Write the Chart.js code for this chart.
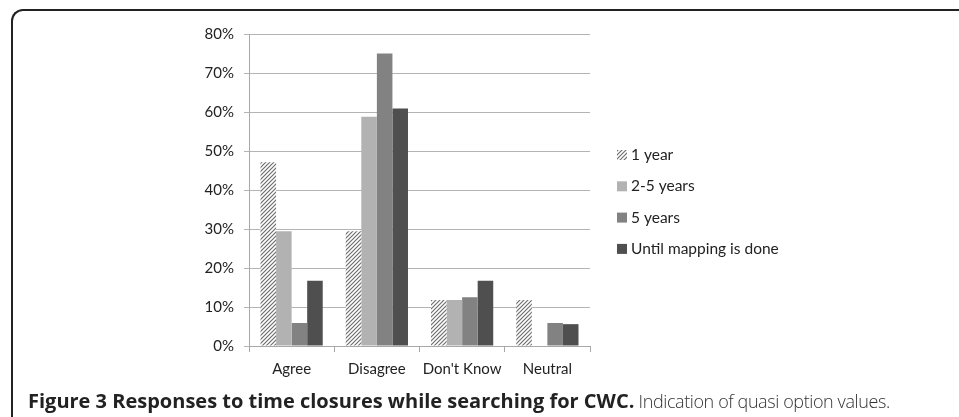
<!DOCTYPE html>
<html>
<head>
<meta charset="utf-8">
<script src="https://cdn.jsdelivr.net/npm/chart.js@4"></script>
<style>
  body { margin: 0; background: #fff; }
  #wrap { position: relative; width: 959px; height: 417px; overflow: hidden; }
  #frame {
    position: absolute; left: 11px; top: 9px; width: 1000px; height: 500px;
    border-left: 2px solid #222; border-top: 2px solid #222;
    border-top-left-radius: 12px;
  }
  #caption {
    position: absolute; left: 28px; top: 390px; white-space: nowrap;
    font-family: "Open Sans", sans-serif; line-height: 22px; color: #222;
  }
  #caption b { font-weight: 700; font-size: 20px; }
  #caption span { font-weight: 300; font-size: 18px; letter-spacing: -0.4px; color: #333; }
</style>
</head>
<body>
<div id="wrap">
  <canvas id="canvas" width="959" height="417"></canvas>
  <div id="frame"></div>
  <div id="caption"><b>Figure 3 Responses to time closures while searching for CWC.</b> <span>Indication of quasi option values.</span></div>
</div>
<script>
var categories = ["Agree", "Disagree", "Don't Know", "Neutral"];
var seriesNames = ["1 year", "2-5 years", "5 years", "Until mapping is done"];
var oneYear = [47.1, 29.4, 11.8, 11.8];
var twoToFive = [29.4, 58.8, 11.8, 0];
var fiveYears = [5.9, 75.0, 12.5, 5.9];
var untilMapped = [16.7, 60.9, 16.7, 5.6];
var yTicks = [0, 10, 20, 30, 40, 50, 60, 70, 80];

// hatch pattern for the "1 year" bars
function makeHatch() {
  var c = document.createElement("canvas");
  c.width = 4; c.height = 4;
  var g = c.getContext("2d");
  g.fillStyle = "#fff";
  g.fillRect(0, 0, 4, 4);
  g.strokeStyle = "#6e6e6e";
  g.lineWidth = 1.2;
  g.beginPath();
  g.moveTo(-1, 5); g.lineTo(5, -1);
  g.moveTo(-1, 1); g.lineTo(1, -1);
  g.moveTo(3, 5); g.lineTo(5, 3);
  g.stroke();
  return g.createPattern(c, "repeat");
}

var ctx = document.getElementById("canvas").getContext("2d");
var hatch = makeHatch();
var colors = [hatch, "#b2b2b2", "#828282", "#4f4f4f"];
var values = [oneYear, twoToFive, fiveYears, untilMapped];

var datasets = seriesNames.map(function(name, i) {
  return {
    label: name,
    data: values[i],
    backgroundColor: colors[i],
    borderWidth: 0,
    categoryPercentage: 0.73,
    barPercentage: 1.0
  };
});

// legend drawn to the right of the plot, like the original figure
var sideLegend = {
  id: "sideLegend",
  afterDraw: function(chart) {
    var c = chart.ctx;
    c.save();
    c.font = "15.5px Lato";
    c.textBaseline = "middle";
    chart.data.datasets.forEach(function(ds, i) {
      var y = 155 + i * 31.3;
      c.fillStyle = ds.backgroundColor;
      c.fillRect(617, y - 5, 10, 10);
      c.fillStyle = "#222";
      c.fillText(ds.label, 631, y);
    });
    c.restore();
  }
};

new Chart(ctx, {
  type: "bar",
  data: { labels: categories, datasets: datasets },
  plugins: [sideLegend],
  options: {
    responsive: false,
    animation: false,
    layout: { padding: { left: 0, right: 369, top: 34, bottom: 0 } },
    plugins: { legend: { display: false }, tooltip: { enabled: false } },
    scales: {
      x: {
        grid: { drawOnChartArea: false, color: "#a8a8a8", tickLength: 6 },
        border: { color: "#a8a8a8" },
        ticks: { color: "#222", font: { family: "Lato", size: 15 }, padding: 8 },
        afterFit: function(s) { s.height = 71; }
      },
      y: {
        min: 0, max: 80,
        afterBuildTicks: function(s) { s.ticks = yTicks.map(function(v) { return { value: v }; }); },
        grid: { color: "#b4b4b4", tickLength: 5 },
        border: { color: "#a8a8a8" },
        ticks: {
          color: "#222", font: { family: "Lato", size: 15 }, padding: 10,
          callback: function(v) { return v + "%"; }
        },
        afterFit: function(s) { s.width = 249; }
      }
    }
  }
});
</script>
</body>
</html>
